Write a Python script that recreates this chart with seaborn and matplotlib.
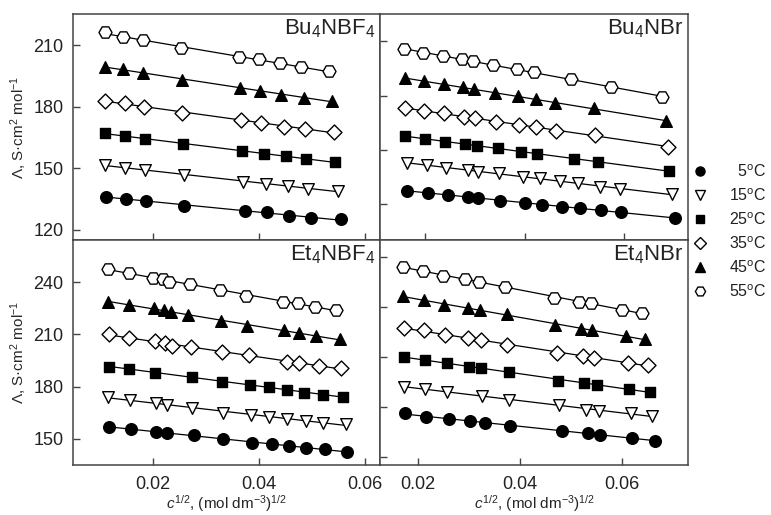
import matplotlib
matplotlib.use("Agg")
import matplotlib.pyplot as plt
import numpy as np
import pandas as pd
import seaborn as sns
from matplotlib.lines import Line2D

# Temperatures (legend order)
temps = ["5", "15", "25", "35", "45", "55"]

# Molar conductivity vs sqrt(c); one row per temperature, 5 -> 55 degC
bu4nbf4_x = [
    [0.0111, 0.0148, 0.0186, 0.0258, 0.0373, 0.0415, 0.0456, 0.0497, 0.0554],
    [0.0108, 0.0147, 0.0184, 0.0258, 0.0370, 0.0412, 0.0454, 0.0493, 0.0548],
    [0.0109, 0.0147, 0.0184, 0.0257, 0.0367, 0.0409, 0.0450, 0.0489, 0.0543],
    [0.0108, 0.0147, 0.0183, 0.0255, 0.0365, 0.0404, 0.0447, 0.0486, 0.0541],
    [0.0108, 0.0143, 0.0180, 0.0254, 0.0364, 0.0401, 0.0441, 0.0484, 0.0537],
    [0.0108, 0.0143, 0.0180, 0.0252, 0.0362, 0.0399, 0.0439, 0.0478, 0.0532],
]
bu4nbf4_y = [
    [136.2, 135.2, 134.1, 131.8, 129.2, 128.6, 126.8, 126.0, 125.2],
    [151.6, 150.3, 149.2, 146.8, 143.5, 142.5, 141.4, 140.1, 139.0],
    [167.0, 165.9, 164.4, 161.7, 158.4, 157.1, 156.0, 154.5, 153.1],
    [182.9, 181.6, 180.0, 176.8, 173.5, 172.2, 170.3, 169.0, 167.8],
    [199.5, 198.2, 196.5, 193.0, 189.1, 187.8, 185.8, 184.4, 182.9],
    [216.2, 214.1, 212.3, 208.4, 204.3, 203.0, 201.1, 199.1, 197.4],
]

bu4nbr_x = [
    [0.0165, 0.0207, 0.0246, 0.0286, 0.0307, 0.0350, 0.0400, 0.0435, 0.0475, 0.0511, 0.0553, 0.0593, 0.0701],
    [0.0164, 0.0204, 0.0242, 0.0286, 0.0306, 0.0348, 0.0397, 0.0430, 0.0470, 0.0506, 0.0551, 0.0591, 0.0695],
    [0.0160, 0.0201, 0.0240, 0.0281, 0.0305, 0.0346, 0.0393, 0.0425, 0.0499, 0.0546, 0.0690],
    [0.0160, 0.0199, 0.0238, 0.0278, 0.0301, 0.0343, 0.0388, 0.0423, 0.0462, 0.0540, 0.0687],
    [0.0160, 0.0199, 0.0238, 0.0276, 0.0299, 0.0340, 0.0387, 0.0422, 0.0460, 0.0538, 0.0683],
    [0.0158, 0.0197, 0.0236, 0.0274, 0.0296, 0.0336, 0.0385, 0.0419, 0.0493, 0.0573, 0.0675],
]
bu4nbr_y = [
    [141.2, 140.2, 139.2, 138.4, 137.6, 136.5, 135.3, 134.6, 133.8, 133.0, 132.2, 131.5, 128.4],
    [153.8, 153.0, 151.8, 150.7, 149.9, 149.2, 147.6, 146.8, 145.6, 144.5, 143.0, 141.9, 139.5],
    [166.4, 165.0, 163.7, 162.7, 161.9, 160.7, 159.1, 158.1, 155.8, 154.5, 150.2],
    [179.1, 178.0, 176.8, 175.3, 174.5, 173.0, 171.4, 170.7, 168.7, 166.8, 161.4],
    [192.9, 191.7, 190.2, 188.8, 188.0, 186.0, 184.8, 183.3, 181.4, 179.1, 173.4],
    [206.3, 204.8, 203.2, 201.7, 200.9, 199.1, 197.1, 196.0, 192.5, 189.1, 184.2],
]

et4nbf4_x = [
    [0.0117, 0.0157, 0.0206, 0.0225, 0.0276, 0.0332, 0.0386, 0.0425, 0.0457, 0.0489, 0.0524, 0.0565],
    [0.0115, 0.0156, 0.0206, 0.0225, 0.0274, 0.0331, 0.0384, 0.0419, 0.0453, 0.0488, 0.0521, 0.0564],
    [0.0117, 0.0155, 0.0204, 0.0274, 0.0330, 0.0382, 0.0419, 0.0452, 0.0485, 0.0520, 0.0559],
    [0.0117, 0.0155, 0.0203, 0.0222, 0.0235, 0.0272, 0.0329, 0.0381, 0.0452, 0.0476, 0.0513, 0.0555],
    [0.0115, 0.0155, 0.0201, 0.0220, 0.0233, 0.0266, 0.0327, 0.0376, 0.0447, 0.0476, 0.0507, 0.0552],
    [0.0115, 0.0154, 0.0200, 0.0219, 0.0230, 0.0269, 0.0326, 0.0375, 0.0444, 0.0474, 0.0505, 0.0545],
]
et4nbf4_y = [
    [156.9, 155.4, 154.0, 153.1, 152.1, 149.6, 147.7, 146.7, 145.8, 144.8, 143.9, 142.5],
    [174.2, 172.3, 170.3, 169.4, 167.5, 165.0, 163.6, 162.7, 161.3, 160.2, 159.2, 158.4],
    [191.4, 190.1, 188.0, 185.7, 182.8, 180.9, 179.9, 178.0, 176.5, 175.1, 174.2],
    [210.1, 208.1, 206.2, 204.9, 203.5, 202.6, 200.1, 198.2, 194.3, 193.4, 192.0, 190.5],
    [228.9, 227.0, 225.0, 224.1, 223.1, 221.2, 217.9, 214.9, 212.6, 210.6, 209.1, 207.2],
    [247.5, 245.6, 242.7, 241.7, 240.4, 239.0, 235.6, 232.3, 228.9, 227.9, 226.0, 224.1],
]

et4nbr_x = [
    [0.0175, 0.0216, 0.0261, 0.0303, 0.0332, 0.0381, 0.0484, 0.0535, 0.0558, 0.0621, 0.0665],
    [0.0174, 0.0214, 0.0257, 0.0327, 0.0379, 0.0477, 0.0531, 0.0556, 0.0618, 0.0659],
    [0.0174, 0.0214, 0.0257, 0.0301, 0.0324, 0.0379, 0.0476, 0.0527, 0.0552, 0.0615, 0.0656],
    [0.0173, 0.0213, 0.0254, 0.0299, 0.0324, 0.0376, 0.0473, 0.0524, 0.0546, 0.0612, 0.0652],
    [0.0172, 0.0212, 0.0252, 0.0298, 0.0322, 0.0375, 0.0469, 0.0520, 0.0542, 0.0608, 0.0647],
    [0.0171, 0.0211, 0.0250, 0.0293, 0.0320, 0.0371, 0.0467, 0.0516, 0.0540, 0.0600, 0.0641],
]
et4nbr_y = [
    [171.7, 170.0, 168.7, 167.8, 167.0, 165.3, 163.0, 161.7, 160.8, 159.2, 158.0],
    [185.0, 183.7, 182.5, 180.5, 178.3, 175.8, 173.3, 172.8, 171.7, 170.5],
    [200.0, 198.3, 196.7, 195.0, 194.2, 192.2, 187.8, 187.0, 185.8, 183.7, 182.5],
    [214.2, 213.3, 210.8, 209.2, 208.3, 205.8, 201.7, 200.3, 199.5, 197.0, 195.8],
    [230.3, 228.3, 225.8, 224.2, 223.3, 221.3, 215.8, 213.8, 213.3, 210.3, 208.7],
    [244.7, 243.0, 240.5, 238.7, 237.5, 235.0, 229.2, 227.5, 226.7, 223.3, 222.0],
]

# Axis ticks
x_ticks = [0.02, 0.04, 0.06]
bu4nbf4_yticks = [120, 150, 180, 210]
et4nbf4_yticks = [150, 180, 210, 240]
bu4nbr_yticks = [135, 160, 185, 210]
et4nbr_yticks = [150, 175, 200, 225, 250]

sns.set_style("ticks")
plt.rcParams.update({
    "font.family": ["Liberation Sans", "DejaVu Sans"],
    "mathtext.fontset": "custom",
    "mathtext.rm": "Liberation Sans",
    "mathtext.it": "Liberation Sans:italic",
    "mathtext.default": "regular",
    "text.color": "#222222",
    "axes.edgecolor": "#444444",
    "xtick.color": "#444444",
    "ytick.color": "#444444",
    "xtick.labelcolor": "#222222",
    "ytick.labelcolor": "#222222",
})

# marker, face colour, marker area
styles = [
    ("o", "black", 70),
    ("v", "white", 70),
    ("s", "black", 55),
    ("D", "white", 58),
    ("^", "black", 70),
    ("H", "white", 88),
]

W, H = 771, 515
fig = plt.figure(figsize=(W / 100, H / 100), dpi=100)


def box(x0, y0, x1, y1):
    return [x0 / W, 1 - y1 / H, (x1 - x0) / W, (y1 - y0) / H]


ax_bu_bf4 = fig.add_axes(box(73.3, 14, 380, 240))
ax_bu_br = fig.add_axes(box(380, 14, 688.3, 240))
ax_et_bf4 = fig.add_axes(box(73.3, 240, 380, 465))
ax_et_br = fig.add_axes(box(380, 240, 688.3, 465))

panels = [
    (ax_bu_bf4, bu4nbf4_x, bu4nbf4_y, r"Bu$_4$NBF$_4$", (0.0049, 0.0628), (115.1, 225.1), bu4nbf4_yticks),
    (ax_bu_br, bu4nbr_x, bu4nbr_y, r"Bu$_4$NBr", (0.0110, 0.0728), (118.4, 222.6), bu4nbr_yticks),
    (ax_et_bf4, et4nbf4_x, et4nbf4_y, r"Et$_4$NBF$_4$", (0.0049, 0.0628), (134.8, 264.4), et4nbf4_yticks),
    (ax_et_br, et4nbr_x, et4nbr_y, r"Et$_4$NBr", (0.0126, 0.0731), (145.8, 258.3), et4nbr_yticks),
]

for ax, xs, ys, title, xlim, ylim, yt in panels:
    for (mk, fc, s), x, y in zip(styles, xs, ys):
        df = pd.DataFrame({"x": x, "y": y})
        sns.regplot(data=df, x="x", y="y", ax=ax, scatter=False, ci=None,
                    truncate=True, line_kws=dict(color="black", lw=0.9, zorder=2))
        sns.scatterplot(data=df, x="x", y="y", ax=ax, marker=mk, s=s, color=fc,
                        edgecolor="black", linewidth=1.0, zorder=3, legend=False)
    ax.set_xlim(*xlim)
    ax.set_ylim(*ylim)
    ax.set_xticks(x_ticks)
    ax.set_yticks(yt)
    ax.xaxis.set_major_formatter(matplotlib.ticker.FormatStrFormatter("%.2f"))
    ax.tick_params(direction="in", length=5, width=1.0, labelsize=13)
    ax.tick_params(axis="y", pad=7)
    ax.tick_params(axis="x", pad=8)
    for sp in ax.spines.values():
        sp.set_visible(True)
        sp.set_linewidth(1.1)
    ax.set_xlabel("")
    ax.set_ylabel("")
    ax.text(0.985, 0.985, title, transform=ax.transAxes, ha="right", va="top",
            fontsize=16, color="#222222")

for ax in (ax_bu_bf4, ax_bu_br):
    ax.tick_params(labelbottom=False)
for ax in (ax_bu_br, ax_et_br):
    ax.tick_params(labelleft=False)

ylab = r"$\mathit{\Lambda}$, S·cm$^2$ mol$^{-1}$"
xlab = r"$\mathit{c^{1/2}}$, (mol dm$^{-3}$)$^{1/2}$"
for ax in (ax_bu_bf4, ax_et_bf4):
    ax.set_ylabel(ylab, fontsize=11)
    ax.yaxis.set_label_coords(-0.145, 0.5)
for ax in (ax_et_bf4, ax_et_br):
    ax.set_xlabel(xlab, fontsize=11, labelpad=0)

handles = [Line2D([], [], ls="", marker=mk, markersize=np.sqrt(s) * 0.78,
                  markerfacecolor=fc, markeredgecolor="black", markeredgewidth=1.0)
           for mk, fc, s in styles]
labels = [("  " if len(t) == 1 else "") + t + r"$^\mathrm{o}$C" for t in temps]
fig.legend(handles, labels, loc="upper left", bbox_to_anchor=(681 / W, 1 - 152 / H),
           frameon=False, fontsize=11.5, handletextpad=1.3, labelspacing=0.46,
           handlelength=1.0, borderpad=0.2)

fig.savefig("out.png", dpi=100)
